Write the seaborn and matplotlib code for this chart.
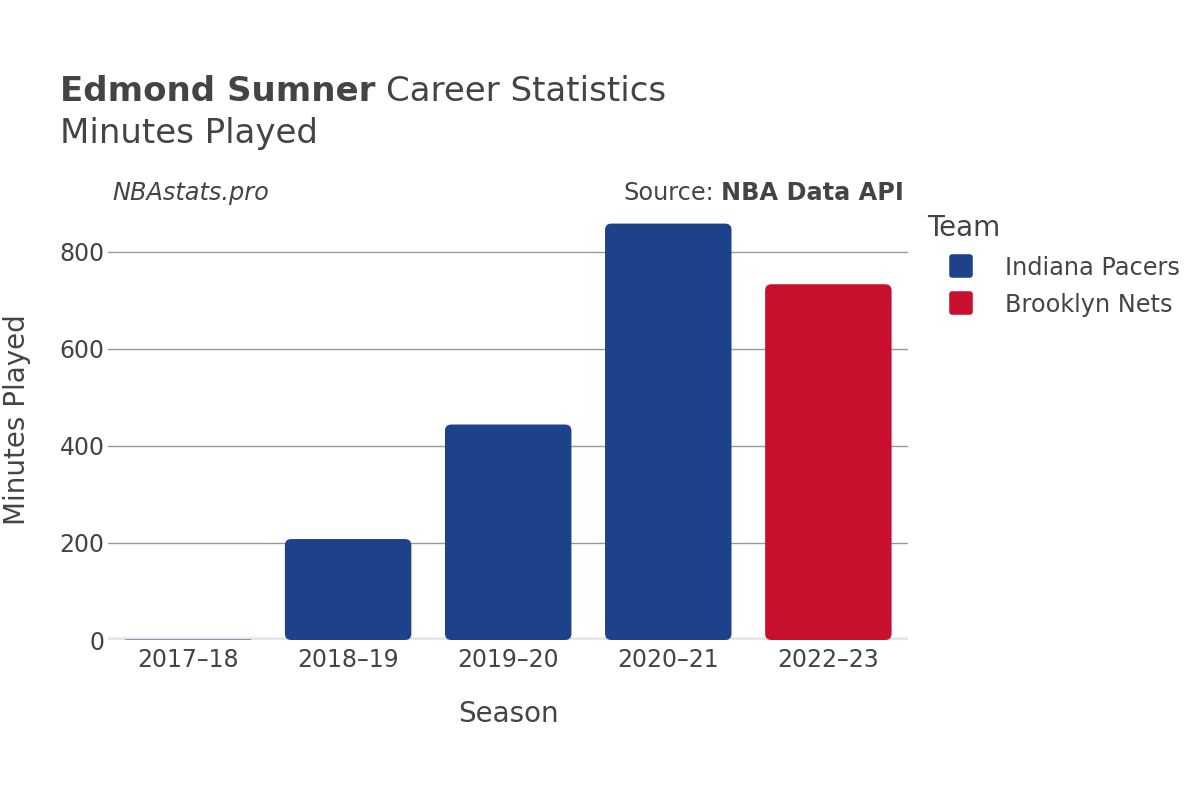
import numpy as np
import pandas as pd
import matplotlib
matplotlib.use("Agg")
import matplotlib.pyplot as plt
from matplotlib.patches import FancyBboxPatch
from matplotlib.lines import Line2D
from matplotlib.markers import MarkerStyle
import seaborn as sns

# data
seasons = ["2017\u201318", "2018\u201319", "2019\u201320", "2020\u201321", "2022\u201323"]
teams = ["Indiana Pacers", "Indiana Pacers", "Indiana Pacers", "Indiana Pacers", "Brooklyn Nets"]
minutes = [1, 208, 444, 858, 733]
team_colors = {"Indiana Pacers": "#1d428a", "Brooklyn Nets": "#c8102e"}

df = pd.DataFrame({"Season": seasons, "Team": teams, "Minutes": minutes})

sns.set_style("white")
plt.rcParams["font.family"] = ["DejaVu Sans"]
txt = "#444444"

fig = plt.figure(figsize=(12, 8), dpi=100)
ax = fig.add_axes([0.09, 0.2, 0.667, 0.546])

sns.barplot(data=df, x="Season", y="Minutes", hue="Team", palette=team_colors,
            dodge=False, width=0.79, saturation=1, legend=False, ax=ax, zorder=3)

# swap plain bars for rounded ones
x_px = 800 / 5.0
y_px = 437 / 900.0
aspect = x_px / y_px
for p in list(ax.patches):
    x, y = p.get_x(), p.get_y()
    w, h = p.get_width(), p.get_height()
    if h <= 0:
        continue
    rr = min(0.04, h / aspect / 2)
    fb = FancyBboxPatch((x, y), w, h,
                        boxstyle=f"round,pad=0,rounding_size={rr}",
                        mutation_aspect=aspect,
                        facecolor=p.get_facecolor(), edgecolor="none", zorder=3)
    p.remove()
    ax.add_patch(fb)

ax.set_xlim(-0.5, 4.5)
ax.set_ylim(0, 900)
ax.set_yticks([0, 200, 400, 600, 800])
ax.yaxis.grid(True, color="#999999", lw=1, zorder=0)
ax.axhline(0, color="#e6e6e6", lw=4, zorder=2)
for s in ax.spines.values():
    s.set_visible(False)
ax.tick_params(axis="x", length=0, labelsize=17, labelcolor=txt, pad=6)
ax.tick_params(axis="y", length=0, labelsize=17, labelcolor=txt, pad=2.5)
ax.set_xlabel("Season", fontsize=20, color=txt, labelpad=20)
ax.set_ylabel("")
fig.text(17 / 1200, 1 - 420 / 800, "Minutes Played", fontsize=20, color=txt,
         rotation=90, ha="center", va="center")

# titles
r = fig.canvas.get_renderer()
t1 = fig.text(0.05, 0.874, "Edmond Sumner", fontsize=24.5, fontweight="bold",
              color=txt, va="baseline")
bb = t1.get_window_extent(renderer=r)
fig.text(bb.x1 / 1200 + 0.009, 0.874, "Career Statistics", fontsize=24.5, color=txt,
         va="baseline")
fig.text(0.05, 0.821, "Minutes Played", fontsize=24.5, color=txt, va="baseline")
fig.text(0.094, 0.75, "NBAstats.pro", fontsize=17.3, style="italic", color=txt,
         va="baseline")
t2 = fig.text(0.753, 0.75, "NBA Data API", fontsize=17.3, fontweight="bold", color=txt,
              va="baseline", ha="right")
bb2 = t2.get_window_extent(renderer=r)
fig.text(bb2.x0 / 1200 - 0.006, 0.75, "Source:", fontsize=17.3, color=txt,
         va="baseline", ha="right")

ms = MarkerStyle("s", joinstyle="round")
handles = [Line2D([0], [0], marker=ms, color="none", markerfacecolor=team_colors[t],
                  markeredgecolor=team_colors[t], markeredgewidth=4, markersize=13,
                  label=t)
           for t in ["Indiana Pacers", "Brooklyn Nets"]]
leg = fig.legend(handles=handles, title="Team", loc="upper left",
                 bbox_to_anchor=(0.757, 0.756), frameon=False, fontsize=17.3,
                 title_fontsize=20, labelcolor=txt, handlelength=2.8,
                 handletextpad=0.4, labelspacing=0.55, alignment="left",
                 borderpad=0.3)
leg.get_title().set_color(txt)

fig.savefig("out.png", dpi=100)
